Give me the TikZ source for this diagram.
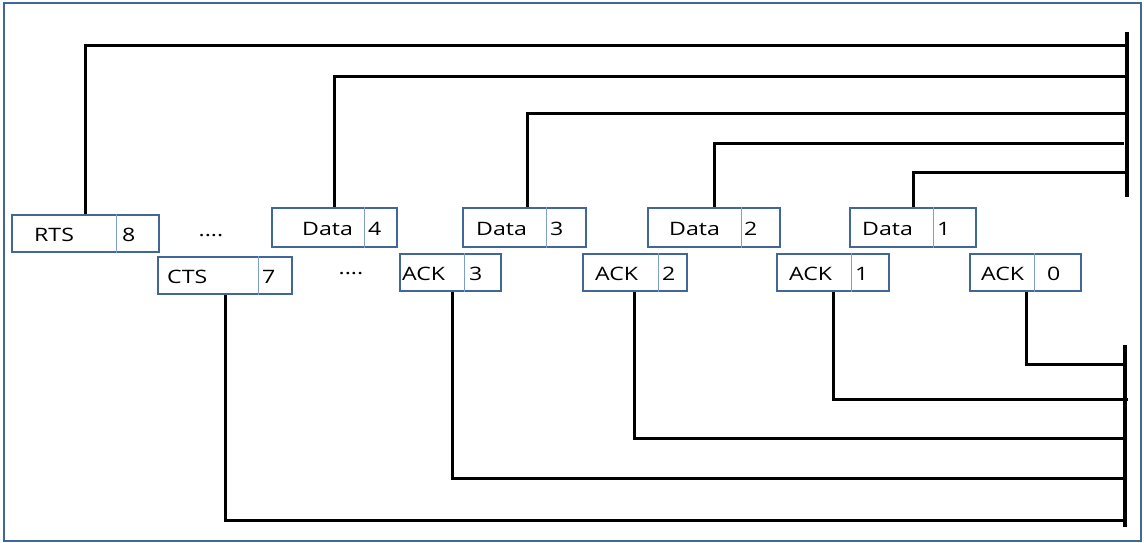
\documentclass[tikz,border=0pt]{standalone}
\usepackage{fontspec}
\setmainfont[FakeStretch=1.25]{Open Sans}
\definecolor{frameblue}{HTML}{41679A}
\definecolor{divblue}{HTML}{7DA0D0}
\begin{document}
\begin{tikzpicture}[x=1pt,y=-1pt,
  pkt/.style={draw=frameblue, line width=2.6pt, fill=white, inner sep=0pt, rectangle},
  div/.style={draw=divblue, line width=1pt},
  lbl/.style={anchor=west, inner sep=0pt, font=\fontsize{18.5}{21}\selectfont},
  wire/.style={draw=black, line width=3pt},
  bus/.style={draw=black, line width=3.5pt},
  dots/.style={inner sep=0pt, font=\fontsize{18.5}{21}\selectfont}]
\useasboundingbox (0,0) rectangle (1144,543);
% outer frame
\draw[frameblue, line width=2.4pt] (4,3) rectangle (1141,541);

% bus bars on the right
\coordinate (tbTop) at (1127,32);
\coordinate (tbBot) at (1127,197);
\coordinate (bbTop) at (1125,345);
\coordinate (bbBot) at (1125,527);
\draw[bus] (tbTop) -- (tbBot);
\draw[bus] (bbTop) -- (bbBot);
\coordinate (t1) at (1127,46);
\coordinate (t2) at (1125,77);
\coordinate (t3) at (1127,113);
\coordinate (t4) at (1124,143);
\coordinate (t5) at (1127,172);
\coordinate (b1) at (1125,364);
\coordinate (b2) at (1128,399);
\coordinate (b3) at (1125,438);
\coordinate (b4) at (1124,478);
\coordinate (b5) at (1125,520);

% packets
\node[pkt, minimum width=147pt, minimum height=37pt] (rts) at (85.5,233.5) {};
\node[pkt, minimum width=134pt, minimum height=37pt] (cts) at (225,275.5) {};
\node[pkt, minimum width=125pt, minimum height=39pt] (d4) at (334.5,227.5) {};
\node[pkt, minimum width=123pt, minimum height=39pt] (d3) at (524.5,227.5) {};
\node[pkt, minimum width=132pt, minimum height=39pt] (d2) at (714,227.5) {};
\node[pkt, minimum width=126pt, minimum height=39pt] (d1) at (913,227.5) {};
\node[pkt, minimum width=101pt, minimum height=37pt] (a3) at (450.5,272.5) {};
\node[pkt, minimum width=104pt, minimum height=37pt] (a2) at (635,272.5) {};
\node[pkt, minimum width=112pt, minimum height=37pt] (a1) at (833,272.5) {};
\node[pkt, minimum width=111pt, minimum height=37pt] (a0) at (1025.5,272.5) {};

% field dividers
\foreach \n/\dx in {rts/30.5, cts/33, d4/29.5, d3/21.5, d2/27, d1/20, a3/13.5, a2/23, a1/18, a0/8.5}
  \draw[div] ([xshift=\dx pt]\n.north) -- ([xshift=\dx pt]\n.south);

% labels
\node[lbl] (rtsL) at (34,235) {RTS};
\node[lbl] (rtsN) at (122,235) {8};
\node[lbl] (ctsL) at (167,277) {CTS};
\node[lbl] (ctsN) at (262,277) {7};
\node[lbl] (d4L) at (302,229) {Data};
\node[lbl] (d4N) at (368,229) {4};
\node[lbl] (d3L) at (476,229) {Data};
\node[lbl] (d3N) at (550,229) {3};
\node[lbl] (d2L) at (669,229) {Data};
\node[lbl] (d2N) at (744,229) {2};
\node[lbl] (d1L) at (862,229) {Data};
\node[lbl] (d1N) at (937,229) {1};
\node[lbl] (a3L) at (402,274) {ACK};
\node[lbl] (a3N) at (469,274) {3};
\node[lbl] (a2L) at (595,274) {ACK};
\node[lbl] (a2N) at (662,274) {2};
\node[lbl] (a1L) at (789,274) {ACK};
\node[lbl] (a1N) at (855,274) {1};
\node[lbl] (a0L) at (981,274) {ACK};
\node[lbl] (a0N) at (1047,274) {0};

\node[dots] (dotsA) at (211,236) {....};
\node[dots] (dotsB) at (351,274) {....};

% connectors to the upper bus
\draw[wire] ([xshift=-0.5pt]rts.north) |- (t1);
\draw[wire] ([xshift=-0.5pt]d4.north) |- (t2);
\draw[wire] ([xshift=2.5pt]d3.north) |- (t3);
\draw[wire] ([xshift=0pt]d2.north) |- (t4);
\draw[wire] ([xshift=0pt]d1.north) |- (t5);
% connectors to the lower bus
\draw[wire] ([xshift=0.5pt]a0.south) |- (b1);
\draw[wire] ([xshift=0pt]a1.south) |- (b2);
\draw[wire] ([xshift=-1pt]a2.south) |- (b3);
\draw[wire] ([xshift=1.5pt]a3.south) |- (b4);
\draw[wire] ([xshift=0pt]cts.south) |- (b5);
\end{tikzpicture}
\end{document}
